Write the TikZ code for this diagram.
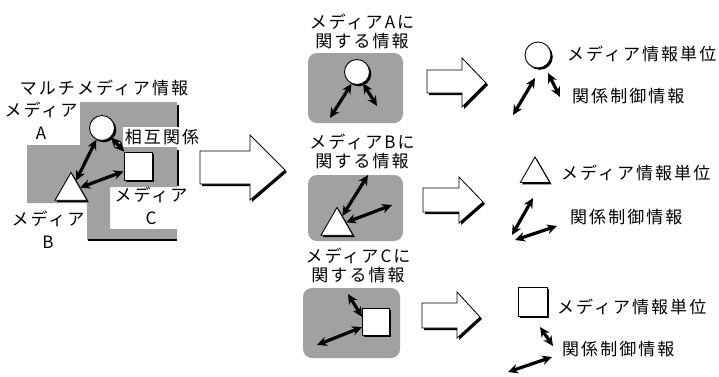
\documentclass[tikz,border=0pt]{standalone}
\usepackage{fontspec}
\setmainfont[LetterSpace=12]{Noto Sans CJK JP}
\usetikzlibrary{arrows.meta,shapes.geometric,shadows}
\tikzset{
  txt/.style={font=\fontsize{17}{19}\selectfont, inner sep=1pt, align=center},
  txtl/.style={font=\fontsize{17}{23}\selectfont, inner sep=1pt, align=center},
  shadearea/.style={fill=black!37},
  dbl/.style={{Stealth[length=10pt,width=9.5pt]}-{Stealth[length=10pt,width=9.5pt]}, line width=3.2pt},
  shp/.style={draw, line width=0.9pt, fill=white, inner sep=0pt,
    drop shadow={shadow xshift=1.8pt, shadow yshift=-1.8pt, fill=black, opacity=1}},
  circ/.style={shp, circle, minimum size=25pt},
  sq/.style={shp, rectangle, minimum size=28pt},
  tri/.style={shp, regular polygon, regular polygon sides=3, minimum size=37pt},
  harrow/.style={draw, line width=0.8pt, fill=white, line join=miter,
    drop shadow={shadow xshift=2pt, shadow yshift=-2pt, fill=black, opacity=1}},
  mbox/.style={fill=black!37, rounded corners=9pt, inner sep=0pt}
}
\begin{document}
\begin{tikzpicture}[x=1pt,y=-1pt]
\useasboundingbox[fill=white] (0,0) rectangle (719,376);

% ---------- left: multimedia information ----------
\fill[shadearea] (80,102) -- (177,102) -- (177,187) -- (110,187) -- (110,229)
  -- (177,229) -- (177,240) -- (87,240) -- (87,203) -- (27,203) -- (27,145)
  -- (80,145) -- cycle;
\draw[line width=1.8pt] (178,105) -- (178,130);
\draw[line width=1.8pt] (178,150) -- (178,186);
\draw[line width=1.8pt] (88,240) -- (177,240);

\node[txt] (tMM) at (104,88) {マルチメディア情報};
\node[txtl] (tA) at (41,121) {メディア\\A};
\node[txtl] (tC) at (151,206) {メディア\\C};
\node[txtl] (tB) at (48,230) {メディア\\B};
\node[txt, fill=white, inner sep=2pt] (tRel) at (162,137) {相互関係};

\node[circ] (lA) at (102,128) {};
\node[sq] (lC) at (138,166) {};
\node[tri] (lB) at (71,191) {};
\draw[dbl] (lA) -- (lB);
\draw[dbl] (lA) -- (lC);
\draw[dbl] (lB) -- (lC);

% big arrow
\path[harrow] (200,151) -- (250,151) -- (250,135) -- (285,170) -- (250,200)
  -- (250,184) -- (200,184) -- cycle;

% ---------- middle column ----------
\node[txt] (mtA) at (362,31) {メディアAに\\関する情報};
\node[mbox, minimum width=95pt, minimum height=70pt] (bxA) at (355.5,88) {};
\node[circ] (mA) at (357,72) {};
\coordinate (mA1) at (330,118);
\coordinate (mA2) at (377,106);
\draw[dbl] (mA.-115) -- (mA1);
\draw[dbl] (mA.-62) -- (mA2);

\node[txt] (mtB) at (362,151) {メディアBに\\関する情報};
\node[mbox, minimum width=95pt, minimum height=66pt] (bxB) at (355.5,208) {};
\node[tri] (mB) at (337,226) {};
\coordinate (mB1) at (368,175);
\coordinate (mB2) at (392,205);
\draw[dbl] (mB.62) -- (mB1);
\draw[dbl] (mB.22) -- (mB2);

\node[txt] (mtC) at (358,265) {メディアCに\\関する情報};
\node[mbox, minimum width=97pt, minimum height=70pt] (bxC) at (351.5,323) {};
\node[sq, minimum size=27pt] (mC) at (376,322) {};
\coordinate (mC1) at (348,294);
\coordinate (mC2) at (317,345);
\draw[dbl] (mC.160) -- (mC1);
\draw[dbl] (mC.200) -- (mC2);

% small arrows
\path[harrow] (427,70) -- (462,70) -- (462,58) -- (486,83) -- (462,107)
  -- (462,93) -- (427,93) -- cycle;
\path[harrow] (423,188) -- (459,188) -- (459,177) -- (483,202) -- (459,223)
  -- (459,212) -- (423,212) -- cycle;
\path[harrow] (422,303) -- (457,303) -- (457,292) -- (480,317) -- (457,338)
  -- (457,328) -- (422,328) -- cycle;

% ---------- right column ----------
\node[circ, minimum size=26pt] (rA) at (538,55) {};
\node[txt, anchor=west] (rtA1) at (566,54) {メディア情報単位};
\node[txt, anchor=west] (rtA2) at (571,96) {関係制御情報};
\coordinate (rA1s) at (535,78);
\coordinate (rA1e) at (513,115);
\coordinate (rA2s) at (548,73);
\coordinate (rA2e) at (560,97);
\draw[dbl] (rA1s) -- (rA1e);
\draw[dbl] (rA2s) -- (rA2e);

\node[tri, minimum size=34pt] (rB) at (535,174) {};
\node[txt, anchor=west] (rtB1) at (560,173) {メディア情報単位};
\node[txt, anchor=west] (rtB2) at (569,217) {関係制御情報};
\coordinate (rB1s) at (533,198);
\coordinate (rB1e) at (512,235);
\coordinate (rB2s) at (515,240);
\coordinate (rB2e) at (557,226);
\draw[dbl] (rB1s) -- (rB1e);
\draw[dbl] (rB2s) -- (rB2e);

\node[sq, minimum size=29pt] (rC) at (533,302) {};
\node[txt, anchor=west] (rtC1) at (556,307) {メディア情報単位};
\node[txt, anchor=west] (rtC2) at (561,349) {関係制御情報};
\coordinate (rC1s) at (540,327);
\coordinate (rC1e) at (553,346);
\coordinate (rC2s) at (552,357);
\coordinate (rC2e) at (508,372);
\draw[dbl] (rC1s) -- (rC1e);
\draw[dbl] (rC2s) -- (rC2e);
\end{tikzpicture}
\end{document}
